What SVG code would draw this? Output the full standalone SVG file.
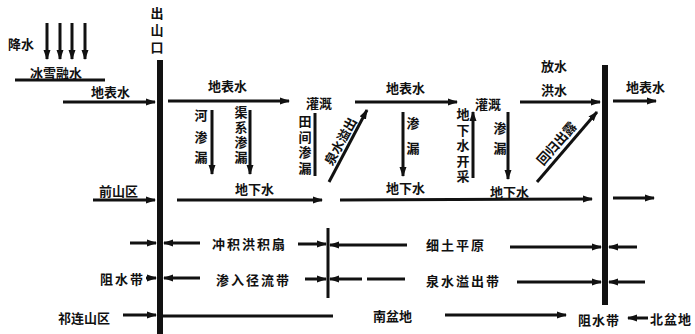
<svg xmlns="http://www.w3.org/2000/svg" width="695" height="334" viewBox="0 0 695 334">
<style>
text{font-family:"Noto Sans CJK SC","Noto Sans",sans-serif;font-size:13px;font-weight:bold;fill:#111;dominant-baseline:central}
.m{text-anchor:middle}
.v{writing-mode:vertical-rl;text-anchor:start;dominant-baseline:auto}
.ln{stroke:#111;stroke-width:3;fill:none}
.ar{stroke:#111;stroke-width:3;fill:none;marker-end:url(#ah)}
.al{stroke:#111;stroke-width:3;fill:none;marker-start:url(#as)}
.bar{fill:#111}
</style>
<defs>
<marker id="ah" markerUnits="userSpaceOnUse" markerWidth="10" markerHeight="8" refX="9" refY="4" orient="auto"><path d="M0,0.5 L10,4 L0,7.5 Z" fill="#111"/></marker>
<marker id="as" markerUnits="userSpaceOnUse" markerWidth="10" markerHeight="8" refX="1" refY="4" orient="auto"><path d="M10,0.5 L0,4 L10,7.5 Z" fill="#111"/></marker>
</defs>
<rect width="695" height="334" fill="#fff"/>

<g id="bars">
<rect class="bar" x="157" y="60" width="6" height="274"/>
<rect class="bar" x="602" y="65" width="6" height="240"/>
<rect class="bar" x="326.5" y="228" width="3" height="70"/>
</g>

<g id="labels">
<g id="chushankou"><text class="v" x="157" y="7" letter-spacing="4">出山口</text></g>
<g id="jiangshui"><text x="8" y="43">降水</text></g>
<g id="bingxue"><text x="30" y="72">冰雪融水</text></g>
<g id="dbs1"><text x="91" y="91">地表水</text></g>
<g id="dbs2"><text x="208" y="85">地表水</text></g>
<g id="he"><text class="m" x="201" y="114">河</text><text class="m" x="201" y="136">渗</text><text class="m" x="201" y="156">漏</text></g>
<g id="quxi"><text class="v" x="241" y="106" letter-spacing="2">渠系渗漏</text></g>
<g id="guangai1"><text x="306" y="102">灌溉</text></g>
<g id="tianjian"><text class="v" x="305" y="115" letter-spacing="2.5">田间渗漏</text></g>
<g id="quanshui"><text class="m" transform="translate(340,141) rotate(-61)">泉水溢出</text></g>
<g id="dbs3"><text x="386" y="87">地表水</text></g>
<g id="shenlou2"><text class="m" x="413" y="122">渗</text><text class="m" x="413" y="147">漏</text></g>
<g id="kaicai"><text class="v" x="463" y="108" letter-spacing="2.5">地下水开采</text></g>
<g id="guangai2"><text x="475" y="103">灌溉</text></g>
<g id="shenlou3"><text class="m" x="500" y="127">渗</text><text class="m" x="500" y="147">漏</text></g>
<g id="fangshui"><text x="541" y="65">放水</text></g>
<g id="hongshui"><text x="541" y="89">洪水</text></g>
<g id="huigui"><text class="m" transform="translate(556,143) rotate(-49)">回归出露</text></g>
<g id="dbs4"><text x="626" y="86">地表水</text></g>
<g id="qianshan"><text x="99" y="190">前山区</text></g>
<g id="dxs1"><text x="235" y="188">地下水</text></g>
<g id="dxs2"><text x="386" y="187">地下水</text></g>
<g id="dxs3"><text x="490" y="191">地下水</text></g>
<g id="chongji"><text x="212" y="243" letter-spacing="2">冲积洪积扇</text></g>
<g id="xitu"><text x="426" y="244" letter-spacing="2">细土平原</text></g>
<g id="zushui1"><text x="100" y="278" letter-spacing="2">阻水带</text></g>
<g id="shenru"><text x="216" y="279" letter-spacing="2">渗入径流带</text></g>
<g id="quanshuidai"><text x="426" y="280" letter-spacing="2">泉水溢出带</text></g>
<g id="qilian"><text x="58" y="317">祁连山区</text></g>
<g id="nanpendi"><text x="373" y="315">南盆地</text></g>
<g id="zushui2"><text x="578" y="319" letter-spacing="1">阻水带</text></g>
<g id="beipendi"><text x="650" y="318" letter-spacing="1">北盆地</text></g>
</g>

<g id="connectors">
<line class="ar" x1="47" y1="23" x2="47" y2="59" stroke-width="2.5"/>
<line class="ar" x1="60" y1="23" x2="60" y2="59" stroke-width="2.5"/>
<line class="ar" x1="72" y1="23" x2="72" y2="59" stroke-width="2.5"/>
<line class="ar" x1="85" y1="23" x2="85" y2="59" stroke-width="2.5"/>
<line class="ln" x1="15" y1="80" x2="105" y2="80" stroke-width="2.5"/>
<line class="ar" x1="63" y1="102" x2="155" y2="102"/>
<line class="ar" x1="168" y1="101" x2="289" y2="101"/>
<line class="ar" x1="212" y1="110" x2="212" y2="174"/>
<line class="ar" x1="250" y1="110" x2="250" y2="174"/>
<line class="ln" x1="315" y1="113" x2="315" y2="176" stroke-width="2.5"/>
<line class="ar" x1="329" y1="182" x2="367" y2="110"/>
<line class="ar" x1="355" y1="102" x2="457" y2="102"/>
<line class="ar" x1="403" y1="112" x2="403" y2="176"/>
<line class="ar" x1="473" y1="178" x2="473" y2="112"/>
<line class="ar" x1="508" y1="112" x2="508" y2="179"/>
<line class="ar" x1="520" y1="102" x2="600" y2="102"/>
<line class="ar" x1="537" y1="182" x2="597" y2="112"/>
<line class="ar" x1="613" y1="101" x2="656" y2="101"/>
<line class="ar" x1="93" y1="200" x2="155" y2="200"/>
<line class="ar" x1="177" y1="200" x2="322" y2="200"/>
<line class="ar" x1="340" y1="200" x2="592" y2="199"/>
<line class="ar" x1="613" y1="198" x2="654" y2="198"/>
<line class="ar" x1="130" y1="243" x2="156" y2="243"/>
<line class="al" x1="164" y1="243" x2="200" y2="243"/>
<line class="ar" x1="298" y1="244" x2="326" y2="244"/>
<line class="al" x1="330" y1="245" x2="407" y2="245"/>
<line class="ar" x1="510" y1="247" x2="601" y2="247"/>
<line class="al" x1="609" y1="247" x2="637" y2="247"/>
<line class="ar" x1="146" y1="278" x2="156" y2="278"/>
<line class="al" x1="164" y1="278" x2="200" y2="278"/>
<line class="ar" x1="305" y1="279" x2="326" y2="279"/>
<line class="al" x1="330" y1="279" x2="362" y2="279"/>
<line class="ln" x1="367" y1="279" x2="405" y2="279"/>
<line class="ar" x1="517" y1="282" x2="601" y2="282"/>
<line class="al" x1="609" y1="282" x2="645" y2="282"/>
<line class="ar" x1="123" y1="315" x2="156" y2="315"/>
<line class="ln" x1="163" y1="316" x2="333" y2="316"/>
<line class="ar" x1="445" y1="315" x2="566" y2="315"/>
<line class="ar" x1="648" y1="318" x2="628" y2="318"/>
</g>
</svg>
